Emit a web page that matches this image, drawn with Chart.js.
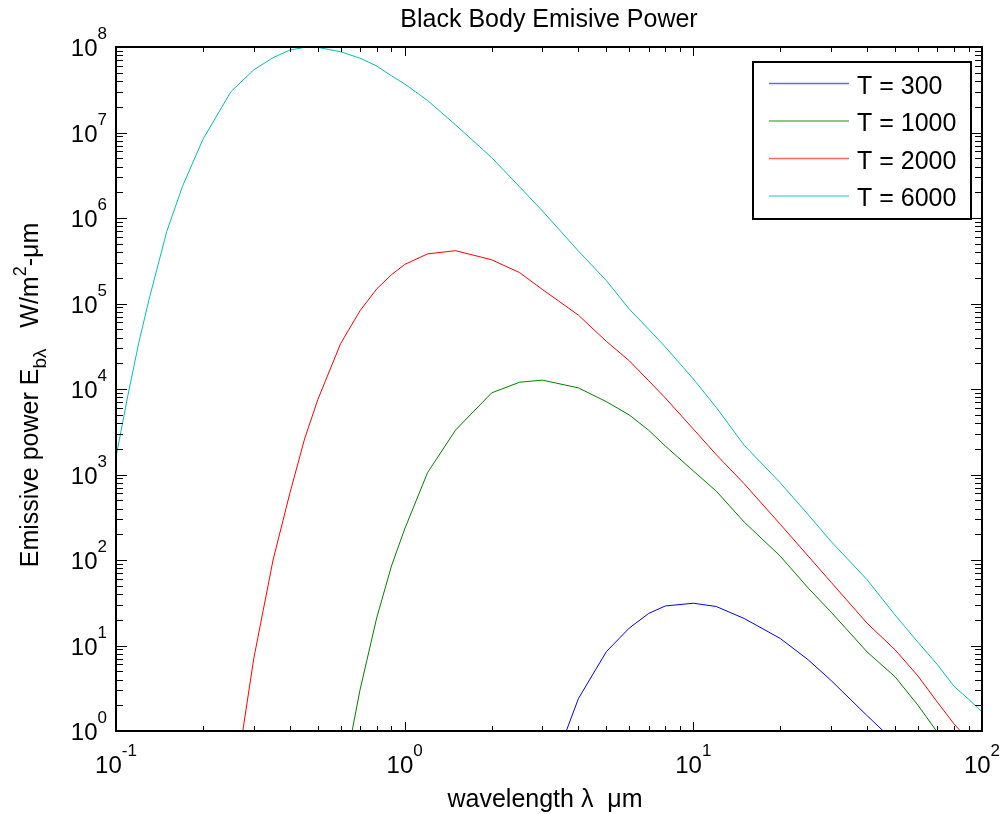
<!DOCTYPE html>
<html>
<head>
<meta charset="utf-8">
<script src="https://cdn.jsdelivr.net/npm/chart.js@4.4.0/dist/chart.umd.min.js"></script>
<style>
  html, body { margin: 0; padding: 0; background: #fff; }
  canvas { display: block; }
</style>
</head>
<body>
<canvas id="planck" width="1002" height="814"></canvas>
<script>
// wavelength grid (um) and emissive power (W/m^2-um)
const wavelengths = [0.1, 0.11, 0.12, 0.13, 0.15, 0.17, 0.2, 0.25, 0.3, 0.35,
  0.4, 0.45, 0.5, 0.6, 0.7, 0.8, 0.9, 1, 1.2, 1.5,
  2, 2.5, 3, 4, 5, 6, 7, 8, 10, 12,
  15, 20, 25, 30, 40, 50, 60, 70, 80, 90,
  100];

const t300 = [null, null, null, null, null, null, null, null, null, null,
  null, null, null, null, null, null, null, null, null, null,
  null, null, 0.18, 2.4, 8.5, 16, 23.7, 29, 31.2, 28.6,
  20.7, 12.1, 6.8, 3.9, 1.51, 0.74, null, null, null, null,
  null];

const t1000 = [null, null, null, null, null, null, null, null, null, null,
  null, null, null, 0.2, 3, 21, 85, 230, 1050, 3300,
  9000, 1.2e4, 1.27e4, 1.03e4, 7100, 4970, 3300, 2150, 1100, 640,
  278, 111, 47, 24.6, 8.4, 4.3, 2.0, 0.97, 0.58, 0.35,
  0.23];

const t2000 = [null, null, null, null, null, null, null, 0.12, 7, 100,
  600, 2600, 7500, 3.4e4, 8.2e4, 1.48e5, 2.17e5, 2.86e5, 3.8e5, 4.15e5,
  3.25e5, 2.3e5, 1.46e5, 7.3e4, 3.6e4, 2.14e4, 1.25e4, 7850, 3400, 1710,
  780, 262, 111, 55, 18.2, 8.9, 4.4, 2.18, 1.21, 0.78,
  0.51];

const t6000 = [1600, 8500, 3.5e4, 1.1e5, 7.0e5, 2.35e6, 8.3e6, 3.0e7, 5.4e7, 7.5e7,
  9.2e7, 9.9e7, 9.9e7, 8.8e7, 7.4e7, 6.0e7, 4.6e7, 3.7e7, 2.37e7, 1.23e7,
  5.1e6, 2.32e6, 1.21e6, 4.1e5, 1.85e5, 8.6e4, 5.0e4, 3.1e4, 1.31e4, 6100,
  2200, 800, 339, 165, 58.7, 22.7, 10.9, 6.0, 3.33, 2.34,
  1.67];

const seriesLabels = ['T = 300', 'T = 1000', 'T = 2000', 'T = 6000'];
const seriesValues = [t300, t1000, t2000, t6000];
const seriesColors = ['#0000ff', '#008000', '#ff0000', '#00bfbf'];

const xTickExps = ['-1', '0', '1', '2'];
const yTickExps = ['0', '1', '2', '3', '4', '5', '6', '7', '8'];

const titleText = 'Black Body Emisive Power';
const FONT = '"Liberation Sans", Arial, Helvetica, sans-serif';

const toPoints = (vals) => {
  let pts = [];
  vals.forEach((v, i) => {
    if (v != null) pts.push({ x: wavelengths[i], y: v });
  });
  return pts;
};

// draw a run of text pieces (size, vertical shift) starting / centred at x
const drawRich = (ctx, parts, x, y, align) => {
  let total = 0;
  parts.forEach(p => {
    ctx.font = `${p.size}px ${FONT}`;
    p.w = ctx.measureText(p.t).width;
    total += p.w;
  });
  let cx = x;
  if (align === 'center') cx = x - total / 2;
  if (align === 'right') cx = x - total;
  ctx.textAlign = 'left';
  ctx.textBaseline = 'alphabetic';
  parts.forEach(p => {
    ctx.font = `${p.size}px ${FONT}`;
    ctx.fillText(p.t, cx, y + (p.dy || 0));
    cx += p.w;
  });
};

const powerParts = (exp) => [
  { t: '10', size: 24 },
  { t: exp, size: 17, dy: -17 }
];

const logTicks = (lo, hi) => {
  let out = [];
  for (let e = lo; e <= hi; e++) {
    for (let m = 1; m <= 9; m++) {
      const v = m * Math.pow(10, e);
      if (e === hi && m > 1) break;
      out.push({ v: v, major: m === 1 });
    }
  }
  return out;
};

const matlabAxes = {
  id: 'matlabAxes',
  afterDraw(chart) {
    const ctx = chart.ctx;
    const { left, right, top, bottom } = chart.chartArea;
    const xs = chart.scales.x;
    const ys = chart.scales.y;
    ctx.save();
    ctx.strokeStyle = '#000';
    ctx.fillStyle = '#000';

    // inward tick marks on all four sides
    ctx.lineWidth = 1;
    ctx.beginPath();
    logTicks(-1, 2).forEach(t => {
      const px = Math.round(xs.getPixelForValue(t.v)) + 0.5;
      const len = t.major ? 9 : 5;
      ctx.moveTo(px, bottom); ctx.lineTo(px, bottom - len);
      ctx.moveTo(px, top); ctx.lineTo(px, top + len);
    });
    logTicks(0, 8).forEach(t => {
      const py = Math.round(ys.getPixelForValue(t.v)) + 0.5;
      const len = t.major ? 11 : 7;
      ctx.moveTo(left, py); ctx.lineTo(left + len, py);
      ctx.moveTo(right, py); ctx.lineTo(right - len, py);
    });
    ctx.stroke();

    // axes box
    ctx.lineWidth = 2;
    ctx.strokeRect(left, top, right - left, bottom - top);

    // tick labels
    xTickExps.forEach(e => {
      const px = xs.getPixelForValue(Math.pow(10, Number(e)));
      drawRich(ctx, powerParts(e), px, bottom + 42, 'center');
    });
    yTickExps.forEach(e => {
      const py = ys.getPixelForValue(Math.pow(10, Number(e)));
      drawRich(ctx, powerParts(e), left - 9, py + 9, 'right');
    });

    // title and axis labels
    const midX = (left + right) / 2;
    drawRich(ctx, [{ t: titleText, size: 25 }], midX, 27, 'center');
    drawRich(ctx, [{ t: 'wavelength \u03bb  \u03bcm', size: 25 }], midX - 4, 807, 'center');

    ctx.save();
    ctx.translate(38, (top + bottom) / 2 + 6);
    ctx.rotate(-Math.PI / 2);
    drawRich(ctx, [
      { t: 'Emissive power E', size: 25 },
      { t: 'b\u03bb', size: 19, dy: 8 },
      { t: '   W/m', size: 25 },
      { t: '2', size: 18, dy: -12 },
      { t: '-\u03bcm', size: 25 }
    ], 0, 0, 'center');
    ctx.restore();

    // legend box
    const lx = 753, ly = 62, lw = 218, lh = 157;
    ctx.fillStyle = '#fff';
    ctx.fillRect(lx, ly, lw, lh);
    ctx.lineWidth = 2;
    ctx.strokeStyle = '#000';
    ctx.strokeRect(lx, ly, lw, lh);
    chart.data.datasets.forEach((ds, i) => {
      const y = 83.5 + i * 37.5;
      ctx.strokeStyle = ds.borderColor;
      ctx.lineWidth = 1.5;
      ctx.globalAlpha = 0.6;
      ctx.beginPath();
      ctx.moveTo(769, y);
      ctx.lineTo(849, y);
      ctx.stroke();
      ctx.globalAlpha = 1;
      ctx.fillStyle = '#000';
      drawRich(ctx, [{ t: ds.label, size: 25 }], 857, y + 10, 'left');
    });
    ctx.restore();
  }
};

const canvas = document.getElementById('planck');
const config = {
  type: 'line',
  data: {
    datasets: seriesLabels.map((label, i) => ({
      label: label,
      data: toPoints(seriesValues[i]),
      borderColor: seriesColors[i],
      backgroundColor: seriesColors[i],
      borderWidth: 1,
      pointRadius: 0,
      tension: 0,
      fill: false
    }))
  },
  options: {
    responsive: false,
    devicePixelRatio: 1,
    animation: false,
    layout: {
      padding: { left: 116, top: 47, right: 20, bottom: 83 }
    },
    scales: {
      x: { type: 'logarithmic', min: 0.1, max: 100, display: false },
      y: { type: 'logarithmic', min: 1, max: 1e8, display: false }
    },
    plugins: {
      legend: { display: false },
      title: { display: false },
      tooltip: { enabled: false }
    }
  },
  plugins: [matlabAxes]
};

new Chart(canvas, config);
</script>
</body>
</html>
